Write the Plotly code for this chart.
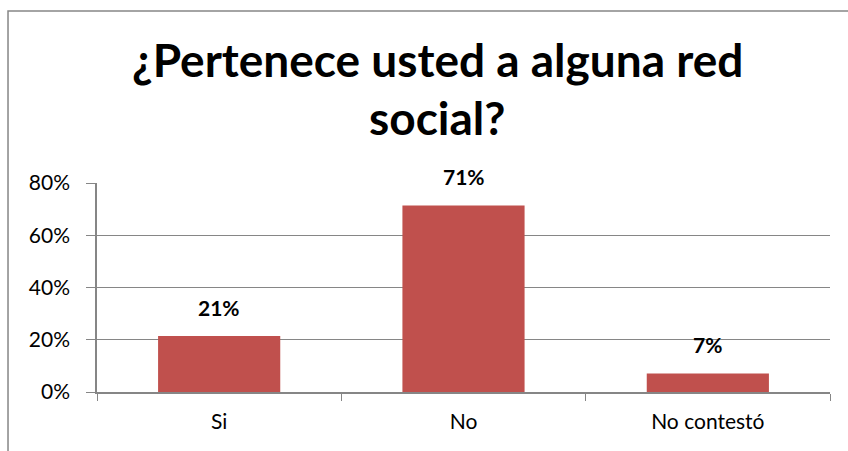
import plotly.graph_objects as go

categorias = ["Si", "No", "No contestó"]
valores = [0.214, 0.714, 0.071]
etiquetas = ["21%", "71%", "7%"]
ticks_y = [0, 0.2, 0.4, 0.6, 0.8]
ticks_y_texto = ["0%", "20%", "40%", "60%", "80%"]
titulo = ["¿Pertenece usted a alguna red", "social?"]

gris = "#868686"
fuente = "Lato, 'Open Sans', sans-serif"

fig = go.Figure(go.Bar(
    x=categorias, y=valores,
    marker=dict(color="#C0504D", line=dict(width=0)),
    width=0.5,
))

# etiquetas de datos sobre las barras
anotaciones = [dict(x=c, y=v, text="<b>" + t + "</b>", showarrow=False,
                    xref="x", yref="y", yanchor="bottom", yshift=14,
                    font=dict(size=21, color="black", family=fuente))
               for c, v, t in zip(categorias, valores, etiquetas)]

# título en dos líneas
for linea, ypos in zip(titulo, [1.589, 1.315]):
    anotaciones.append(dict(x=0.464, y=ypos, xref="paper", yref="paper",
                            text="<b>" + linea + "</b>", showarrow=False,
                            xanchor="center", yanchor="middle",
                            font=dict(size=46, color="black", family=fuente)))

fig.update_layout(
    width=848, height=451,
    margin=dict(l=97, r=18, t=183, b=59),
    plot_bgcolor="white", paper_bgcolor="white",
    showlegend=False,
    font=dict(family=fuente, size=21, color="black"),
    xaxis=dict(showline=True, linecolor=gris, linewidth=1.5,
               ticks="outside", tickson="boundaries", ticklen=7, tickcolor=gris,
               showgrid=False, tickfont=dict(size=21), ticklabelstandoff=10),
    yaxis=dict(range=[0, 0.8], tickvals=ticks_y, ticktext=ticks_y_texto,
               showline=True, linecolor=gris, linewidth=1.5,
               ticks="outside", ticklen=9, tickcolor=gris,
               showgrid=True, gridcolor=gris, gridwidth=1,
               zeroline=False, tickfont=dict(size=21), ticklabelstandoff=12),
    annotations=anotaciones,
    shapes=[dict(type="rect", xref="paper", yref="paper",
                 x0=-0.1214, x1=1.3, y0=-0.6, y1=1.823,
                 line=dict(color=gris, width=1.5), layer="below")],
)

fig.write_html("out.html", config={"displayModeBar": False},
               post_script="document.body.style.margin='0';document.body.style.overflow='hidden';")
